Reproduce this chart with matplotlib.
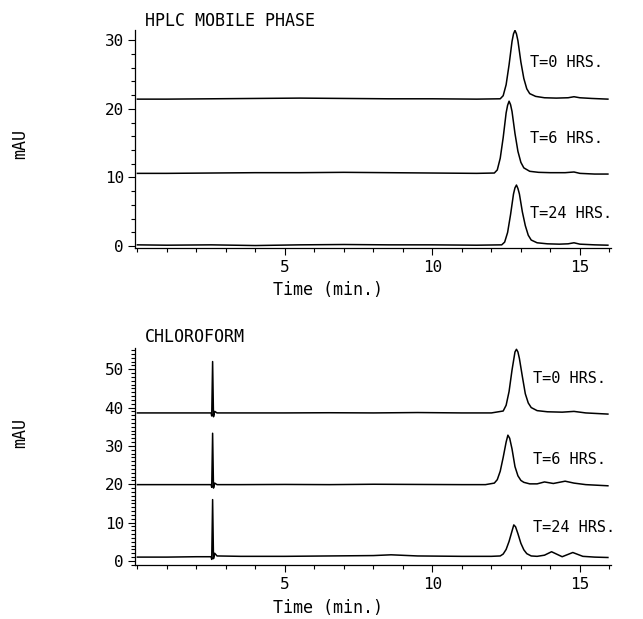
import matplotlib
matplotlib.use("Agg")
import matplotlib.pyplot as plt
from matplotlib.ticker import MultipleLocator, FixedLocator

plt.rcParams['font.family'] = ['DejaVu Sans Mono']

# --- HPLC mobile phase traces (time in min, absorbance in mAU) ---
mp_t0_time = [0.0, 1.0, 2.5, 4.0, 5.5, 7.0, 8.5, 10.0, 11.5, 12.3, 12.4, 12.5, 12.6, 12.7, 12.75,
              12.8, 12.85, 12.9, 13.0, 13.1, 13.2, 13.3, 13.5, 13.8, 14.2, 14.6, 14.8, 15.0, 15.4, 15.95]
mp_t0_mau = [21.4, 21.4, 21.45, 21.5, 21.55, 21.5, 21.45, 21.45, 21.4, 21.45, 21.9, 23.5, 26.4, 29.8, 30.9,
             31.4, 30.9, 29.9, 26.8, 24.4, 22.9, 22.2, 21.8, 21.6, 21.55, 21.6, 21.75, 21.6, 21.5, 21.4]

mp_t6_time = [0.0, 1.0, 2.5, 4.0, 5.5, 7.0, 8.5, 10.0, 11.5, 12.1, 12.2, 12.3, 12.4, 12.5, 12.55,
              12.6, 12.65, 12.7, 12.8, 12.9, 13.0, 13.1, 13.3, 13.6, 14.0, 14.5, 14.8, 15.0, 15.5, 15.95]
mp_t6_mau = [10.6, 10.6, 10.65, 10.7, 10.7, 10.75, 10.7, 10.65, 10.6, 10.65, 11.1, 12.8, 15.8, 19.4, 20.5,
             21.1, 20.6, 19.6, 16.4, 13.8, 12.2, 11.4, 10.9, 10.75, 10.7, 10.7, 10.8, 10.6, 10.5, 10.5]

mp_t24_time = [0.0, 1.0, 2.5, 4.0, 5.5, 7.0, 8.5, 10.0, 11.5, 12.35, 12.45, 12.55, 12.65, 12.75, 12.8,
               12.85, 12.9, 12.95, 13.05, 13.15, 13.25, 13.35, 13.55, 13.9, 14.3, 14.6, 14.8, 15.0, 15.5, 15.95]
mp_t24_mau = [0.2, 0.15, 0.2, 0.1, 0.2, 0.25, 0.2, 0.2, 0.15, 0.2, 0.6, 2.0, 4.6, 7.6, 8.5,
              8.9, 8.4, 7.6, 5.0, 3.0, 1.6, 0.9, 0.5, 0.35, 0.3, 0.35, 0.5, 0.3, 0.2, 0.15]

# --- chloroform traces ---
cf_t0_time = [0.0, 1.0, 2.0, 2.5, 2.52, 2.55, 2.58, 2.62, 2.7, 3.5, 5.0, 6.5, 8.0, 9.5, 11.0, 12.0,
              12.4, 12.5, 12.6, 12.7, 12.8, 12.85, 12.9, 12.95, 13.05, 13.15, 13.25, 13.35, 13.55,
              13.9, 14.4, 14.8, 15.2, 15.95]
cf_t0_mau = [38.6, 38.6, 38.6, 38.6, 37.8, 52.0, 37.6, 39.0, 38.6, 38.6, 38.6, 38.65, 38.6, 38.7, 38.6, 38.6,
             39.1, 40.6, 44.2, 49.8, 54.5, 55.2, 54.5, 52.8, 48.1, 43.6, 41.2, 40.0, 39.2,
             38.9, 38.8, 39.0, 38.6, 38.3]

cf_t6_time = [0.0, 1.0, 2.0, 2.5, 2.52, 2.55, 2.58, 2.62, 2.7, 3.5, 5.0, 6.5, 8.0, 9.5, 11.0, 11.8,
              12.1, 12.2, 12.3, 12.4, 12.5, 12.56, 12.62, 12.7, 12.8, 12.9, 13.0, 13.1, 13.3, 13.55,
              13.8, 14.1, 14.5, 14.8, 15.2, 15.95]
cf_t6_mau = [19.9, 19.9, 19.9, 19.9, 19.2, 33.3, 19.0, 20.3, 19.9, 19.9, 19.95, 19.9, 20.0, 19.95, 19.9, 19.9,
             20.3, 21.2, 23.4, 27.0, 31.0, 32.8, 32.0, 29.2, 24.6, 22.2, 21.0, 20.5, 20.1, 20.1,
             20.6, 20.2, 20.8, 20.3, 19.9, 19.6]

cf_t24_time = [0.0, 1.0, 2.0, 2.5, 2.52, 2.55, 2.58, 2.62, 2.7, 3.5, 5.0, 6.5, 8.0, 8.6, 9.5, 11.0,
               12.0, 12.3, 12.4, 12.5, 12.6, 12.7, 12.76, 12.82, 12.9, 13.0, 13.1, 13.2, 13.35, 13.55,
               13.8, 14.04, 14.4, 14.76, 15.1, 15.5, 15.95]
cf_t24_mau = [1.0, 1.0, 1.1, 1.1, 0.4, 16.0, 0.6, 2.0, 1.3, 1.2, 1.2, 1.3, 1.4, 1.6, 1.3, 1.2,
              1.2, 1.3, 1.8, 3.0, 5.1, 7.8, 9.4, 8.9, 7.1, 4.6, 2.9, 1.9, 1.3, 1.2,
              1.5, 2.4, 1.1, 2.2, 1.2, 1.0, 0.9]

time_ticks = [5, 10, 15]
trace_labels = ["T=0 HRS.", "T=6 HRS.", "T=24 HRS."]

mp_traces = [(mp_t0_time, mp_t0_mau), (mp_t6_time, mp_t6_mau), (mp_t24_time, mp_t24_mau)]
cf_traces = [(cf_t0_time, cf_t0_mau), (cf_t6_time, cf_t6_mau), (cf_t24_time, cf_t24_mau)]


def style_axes(ax, ylim, yticks, yminor):
    ax.set_xlim(-0.08, 16.05)
    ax.set_ylim(*ylim)
    for s in ("top", "right"):
        ax.spines[s].set_visible(False)
    ax.spines["left"].set_linewidth(0.9)
    ax.spines["bottom"].set_linewidth(0.9)
    ax.xaxis.set_major_locator(FixedLocator(time_ticks))
    ax.xaxis.set_minor_locator(MultipleLocator(1))
    ax.yaxis.set_major_locator(FixedLocator(yticks))
    ax.yaxis.set_minor_locator(MultipleLocator(yminor))
    ax.tick_params(axis="both", which="major", direction="out", length=5, width=0.8, labelsize=11.5)
    ax.tick_params(axis="both", which="minor", direction="out", length=3, width=0.8)
    ax.tick_params(axis="x", which="major", pad=4)
    ax.tick_params(axis="y", which="major", pad=3)


fig = plt.figure(figsize=(6.43, 6.19), dpi=100)

ax1 = fig.add_axes([0.21, 0.600, 0.740, 0.352])
for (t, v) in mp_traces:
    ax1.plot(t, v, color="black", lw=1.1)
style_axes(ax1, (-0.2, 31.5), [0, 10, 20, 30], 2)
for lab, y in zip(trace_labels, [26.8, 15.7, 4.8]):
    ax1.text(13.3, y, lab, fontsize=11, va="center", ha="left")
ax1.text(0.021, 1.04, "HPLC MOBILE PHASE", transform=ax1.transAxes, fontsize=12,
         va="center", ha="left")
ax1.text(0.405, -0.195, "Time (min.)", transform=ax1.transAxes, fontsize=12,
         va="center", ha="center")

ax2 = fig.add_axes([0.21, 0.0876, 0.740, 0.350])
for (t, v) in cf_traces:
    ax2.plot(t, v, color="black", lw=1.1)
style_axes(ax2, (-1.0, 55.5), [0, 10, 20, 30, 40, 50], 1)
for lab, y in zip(trace_labels, [47.6, 26.5, 8.6]):
    ax2.text(13.4, y, lab, fontsize=11, va="center", ha="left")
ax2.text(0.021, 1.05, "CHLOROFORM", transform=ax2.transAxes, fontsize=12,
         va="center", ha="left")
ax2.text(0.405, -0.2, "Time (min.)", transform=ax2.transAxes, fontsize=12,
         va="center", ha="center")

fig.text(0.031, 0.767, "mAU", rotation=90, fontsize=12, va="center", ha="center")
fig.text(0.031, 0.300, "mAU", rotation=90, fontsize=12, va="center", ha="center")

fig.savefig("out.png", dpi=100, facecolor="white")
